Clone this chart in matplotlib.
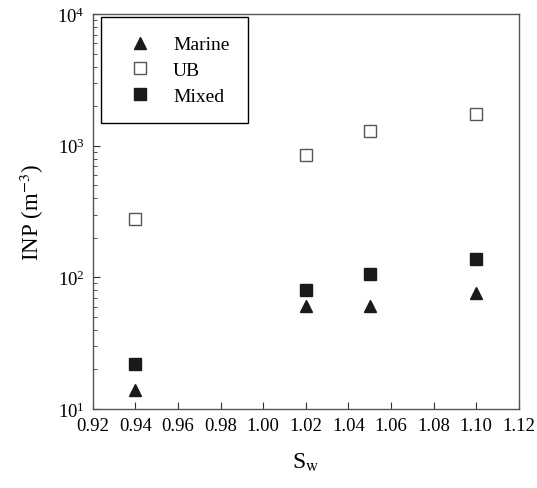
import matplotlib
matplotlib.use("Agg")
import matplotlib.pyplot as plt
import numpy as np

# saturation ratio w.r.t. water
sw_marine = [0.94, 1.02, 1.05, 1.10]
sw_ub = [0.94, 1.02, 1.05, 1.10]
sw_mixed = [0.94, 1.02, 1.05, 1.10]

# INP concentrations (m^-3)
inp_marine = [14, 61, 61, 76]
inp_ub = [277, 853, 1286, 1740]
inp_mixed = [22, 80, 107, 137]

plt.rcParams['font.family'] = ['Liberation Serif', 'DejaVu Serif']
plt.rcParams['mathtext.fontset'] = 'stix'

fig = plt.figure(figsize=(5.37, 4.89), dpi=100)
ax = fig.add_axes([0.173, 0.1616, 0.793, 0.8074])

ax.plot(sw_marine, inp_marine, linestyle='none', marker='^', markersize=9,
        color='#1a1a1a', label='Marine')
ax.plot(sw_ub, inp_ub, linestyle='none', marker='s', markersize=8,
        markerfacecolor='white', markeredgecolor='#555555', markeredgewidth=1.0, label='UB')
ax.plot(sw_mixed, inp_mixed, linestyle='none', marker='s', markersize=8,
        color='#1a1a1a', label='Mixed')

ax.set_yscale('log')
ax.set_xlim(0.92, 1.12)
ax.set_ylim(10, 1e4)
ax.set_xticks(np.arange(0.92, 1.121, 0.02))
ax.set_xticklabels([f"{v:.2f}" for v in np.arange(0.92, 1.121, 0.02)])

ax.tick_params(axis='both', which='both', direction='in', top=False, right=False,
               labelsize=13.5, color='#333333')
ax.tick_params(axis='both', which='major', length=5, pad=6)
ax.tick_params(axis='y', which='minor', length=3)

for s in ax.spines.values():
    s.set_color('#555555')
    s.set_linewidth(1.0)

ax.set_xlabel('S$_\\mathrm{w}$', fontsize=17, labelpad=12)
ax.set_ylabel('INP (m$^{\\mathrm{-3}}$)', fontsize=16.5, labelpad=8)

leg = ax.legend(loc='upper left', bbox_to_anchor=(0.019, 0.992), fontsize=14,
                fancybox=False, edgecolor='black', handletextpad=0.65,
                borderpad=0.95, labelspacing=0.42, borderaxespad=0, handlelength=2.1)
leg.get_frame().set_linewidth(1.0)
leg.get_frame().set_alpha(1)

fig.savefig('out.png', dpi=100)
